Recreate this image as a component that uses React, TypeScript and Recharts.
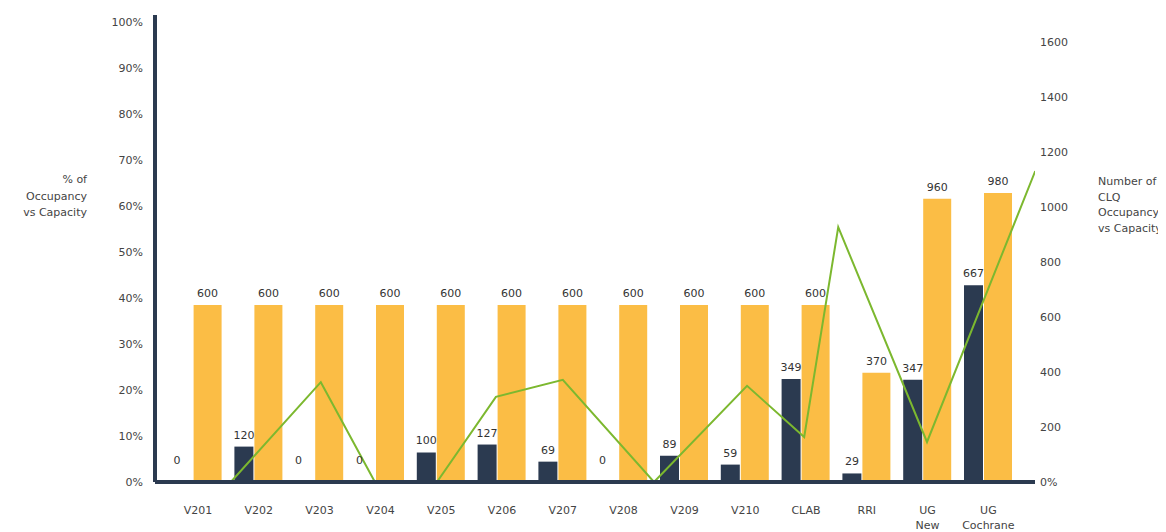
import React from "react";
import {
  ComposedChart,
  Bar,
  Line,
  XAxis,
  YAxis,
  LabelList,
} from "recharts";

// ---- data ----
const categories = [
  "V201", "V202", "V203", "V204", "V205", "V206", "V207",
  "V208", "V209", "V210", "CLAB", "RRI", "UG New", "UG Cochrane",
];
const occupancy = [0, 120, 0, 0, 100, 127, 69, 0, 89, 59, 349, 29, 347, 667];
const capacity = [600, 600, 600, 600, 600, 600, 600, 600, 600, 600, 600, 370, 960, 980];

// green line as drawn: position along the category index, % value
const linePos = [0.54, 2.02, 2.91, 3.93, 4.9, 6.0, 7.5, 9.03, 9.97, 10.53, 11.99, 13.77];
const linePct = [0, 21.7, 0, 0, 18.5, 22.2, 0, 20.9, 9.8, 55.4, 8.7, 67.6];

const leftTicks = [0, 10, 20, 30, 40, 50, 60, 70, 80, 90, 100];
const rightTicks = [0, 200, 400, 600, 800, 1000, 1200, 1400, 1600];

const data = categories.map((name, i) => ({
  name,
  occ: occupancy[i],
  cap: capacity[i],
}));
const lineData = linePos.map((x, i) => ({ x, pct: linePct[i] }));

const NAVY = "#2b3a50";
const ORANGE = "#fbbd45";
const GREEN = "#7cb82f";
const TEXT = "#444";

const BarLabel = (props: any) => {
  const { x, y, width, value } = props;
  if (Number(value) === 0) return null;
  return (
    <text
      x={Number(x) + Number(width) / 2}
      y={Number(y) - 8}
      textAnchor="middle"
      fontSize={11}
      fill="#333"
    >
      {value}
    </text>
  );
};

// labels for zero-valued occupancy bars (zero-height bars carry no label)
const ZeroLabel = (props: any) => {
  const { x, y, value } = props;
  if (Number(value) !== 0) return null;
  return (
    <text
      x={Number(x) - 21}
      y={Number(y) - 18}
      textAnchor="middle"
      fontSize={11}
      fill="#333"
    >
      {value}
    </text>
  );
};

const CatTick = (props: any) => {
  const { x, y, payload } = props;
  const lines = String(payload.value).split(" ");
  return (
    <text x={x} y={y + 32} textAnchor="middle" fontSize={11} fill={TEXT}>
      {lines.map((l: string, i: number) => (
        <tspan key={i} x={x} dy={i === 0 ? 0 : 15}>
          {l}
        </tspan>
      ))}
    </text>
  );
};

export default function App() {
  return (
    <div
      style={{
        position: "relative",
        width: 1150,
        height: 524,
        fontFamily: "'DejaVu Sans', sans-serif",
        background: "#fff",
      }}
    >
      <ComposedChart
        width={1150}
        height={524}
        data={data}
        margin={{ top: 7, right: 0, left: 0, bottom: 10 }}
        barGap={1}
      >
        <XAxis
          xAxisId="cat"
          dataKey="name"
          type="category"
          height={40}
          padding={{ left: 12.6, right: 16.2 }}
          axisLine={{ stroke: NAVY, strokeWidth: 4 }}
          tickLine={false}
          tickSize={0}
          tickMargin={0}
          interval={0}
          tick={<CatTick />}
        />
        <XAxis
          xAxisId="line"
          dataKey="x"
          type="number"
          domain={[-0.707, 13.766]}
          allowDataOverflow
          height={0}
          hide
        />
        <YAxis
          yAxisId="left"
          orientation="left"
          width={147}
          domain={[0, 101.52]}
          ticks={leftTicks}
          allowDataOverflow
          tickFormatter={(v: number) => `${v}%`}
          axisLine={{ stroke: NAVY, strokeWidth: 4 }}
          tickLine={false}
          tickSize={0}
          tickMargin={12}
          tick={{ fontSize: 11, fill: TEXT }}
        />
        <YAxis
          yAxisId="right"
          orientation="right"
          width={123}
          domain={[0, 1698.2]}
          ticks={rightTicks}
          allowDataOverflow
          tickFormatter={(v: number) => (v === 0 ? "0%" : `${v}`)}
          axisLine={false}
          tickLine={false}
          tickSize={0}
          tickMargin={5}
          tick={{ fontSize: 11, fill: TEXT, textAnchor: "start" }}
        />
        <YAxis
          yAxisId="bars"
          orientation="right"
          width={0}
          hide
          domain={[0, 1583]}
          allowDataOverflow
        />
        <Bar
          xAxisId="cat"
          yAxisId="bars"
          dataKey="occ"
          fill={NAVY}
          barSize={19}
          isAnimationActive={false}
        >
          <LabelList dataKey="occ" content={<BarLabel />} />
        </Bar>
        <Bar
          xAxisId="cat"
          yAxisId="bars"
          dataKey="cap"
          fill={ORANGE}
          barSize={28}
          isAnimationActive={false}
        >
          <LabelList dataKey="cap" content={<BarLabel />} />
        </Bar>
        <Line
          xAxisId="cat"
          yAxisId="bars"
          dataKey="occ"
          stroke="none"
          dot={false}
          activeDot={false}
          legendType="none"
          isAnimationActive={false}
        >
          <LabelList dataKey="occ" content={<ZeroLabel />} />
        </Line>
        <Line
          xAxisId="line"
          yAxisId="left"
          data={lineData}
          dataKey="pct"
          type="linear"
          stroke={GREEN}
          strokeWidth={2}
          dot={false}
          activeDot={false}
          isAnimationActive={false}
        />
      </ComposedChart>
      <div
        style={{
          position: "absolute",
          left: 0,
          top: 164,
          width: 79,
          textAlign: "right",
          fontSize: 11,
          lineHeight: "16.5px",
          color: TEXT,
        }}
      >
        % of
        <br />
        Occupancy
        <br />
        vs Capacity
      </div>
      <div
        style={{
          position: "absolute",
          left: 1090,
          top: 166,
          textAlign: "left",
          fontSize: 11,
          lineHeight: "15.7px",
          color: TEXT,
          whiteSpace: "nowrap",
        }}
      >
        Number of
        <br />
        CLQ
        <br />
        Occupancy
        <br />
        vs Capacity
      </div>
    </div>
  );
}
